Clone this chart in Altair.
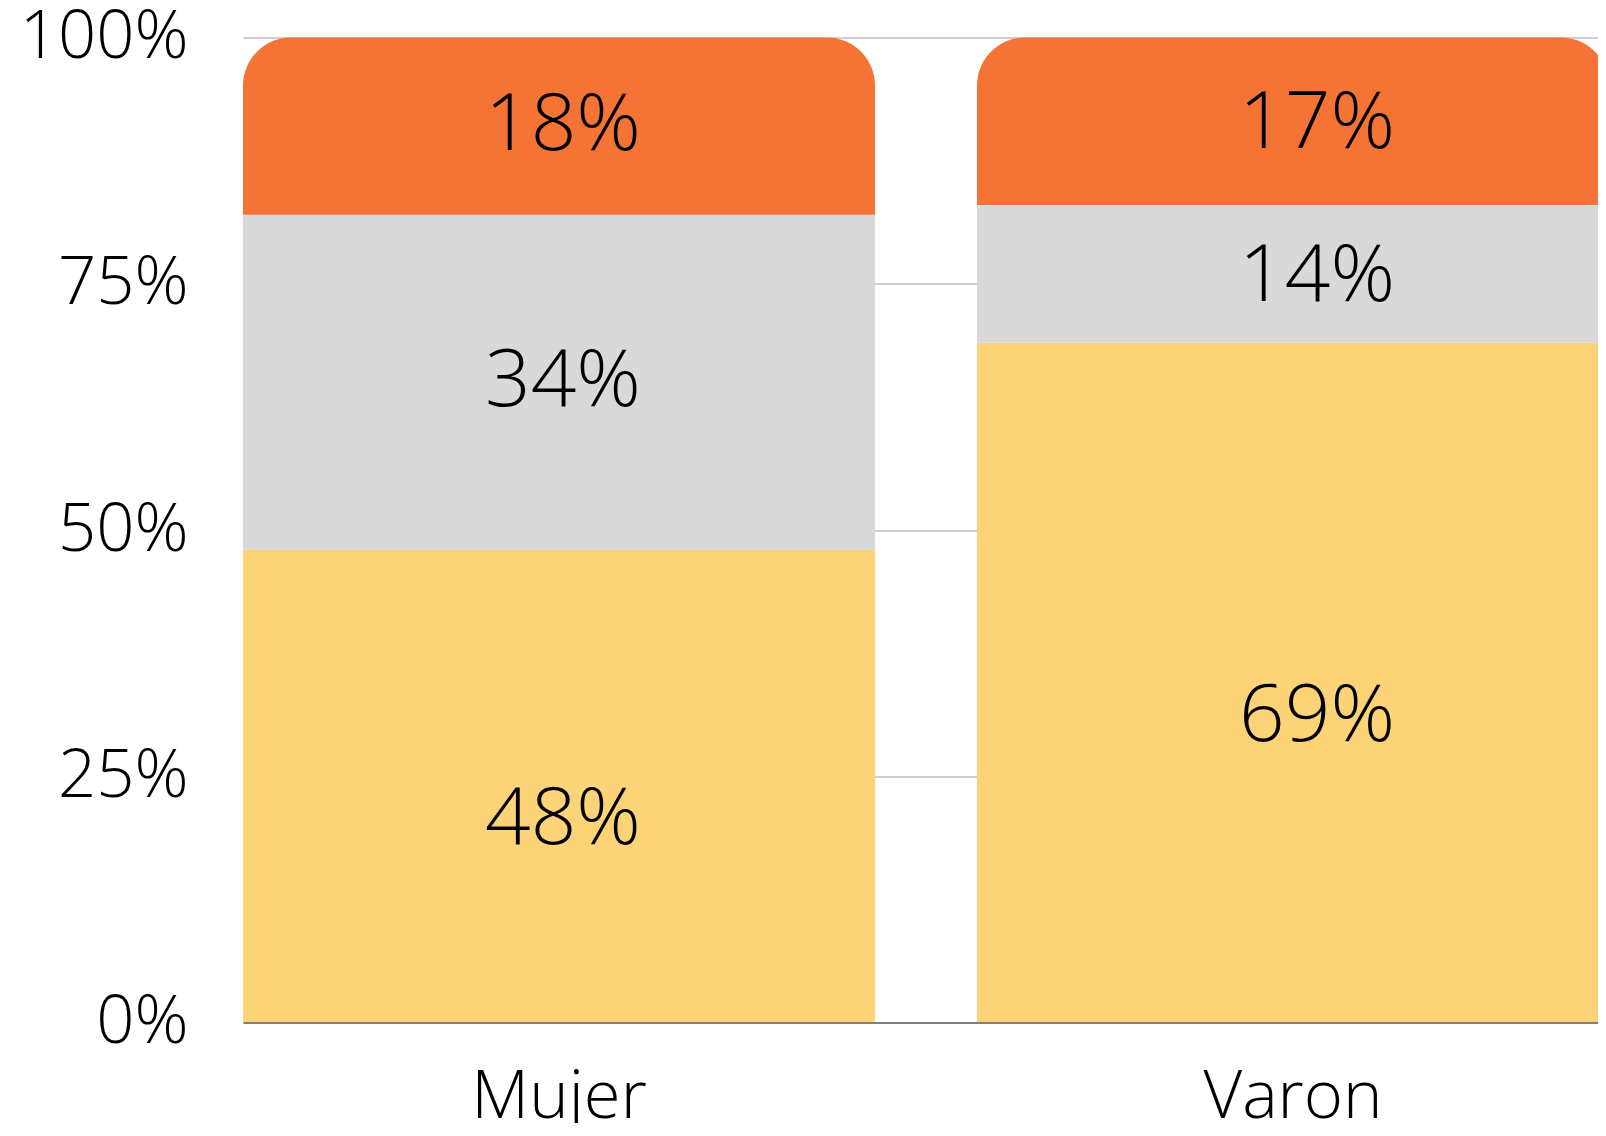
import altair as alt
import pandas as pd

categories = ["Mujer", "Varon"]
series = ["Serie 1", "Serie 2", "Serie 3"]
colors = ["#FDD378", "#D9D9D9", "#F47335"]
mujer_values = [48, 34, 18]
varon_values = [69, 14, 17]
y_ticks = [0, 25, 50, 75, 100]

rows = []
for cat, vals in zip(categories, [mujer_values, varon_values]):
    for i, (s, v) in enumerate(zip(series, vals)):
        rows.append({"category": cat, "series": s, "order": i + 1, "value": v,
                     "label": f"{v}%"})
df = pd.DataFrame(rows)

FONT = "Open Sans"

base = alt.Chart(df).transform_stack(
    stack="value", groupby=["category"], sort=[alt.SortField("order")], as_=["y0", "y1"]
).transform_calculate(mid="(datum.y0 + datum.y1) / 2")

x_scale = alt.Scale(paddingInner=0.139, paddingOuter=0, range=[0, 1366])
x_enc = alt.X(
    "category:N",
    sort=categories,
    scale=x_scale,
    axis=alt.Axis(title=None, labelAngle=0, ticks=False, grid=False,
                  domainColor="#666666", domainWidth=1.5, labelPadding=42,
                  labelFont=FONT, labelFontWeight=300, labelFontSize=67,
                  labelColor="#000000", labelLimit=0, zindex=1),
)
y_scale = alt.Scale(domain=[0, 100], nice=False)
y_enc = alt.Y(
    "y0:Q", scale=y_scale,
    axis=alt.Axis(title=None, values=y_ticks, labelExpr="datum.value + '%'",
                  ticks=False, domain=False, gridColor="#BFBFBF", gridWidth=1.3,
                  labelPadding=55, labelFont=FONT, labelFontWeight=300,
                  labelFontSize=67, labelColor="#000000", labelLimit=0),
)
color_enc = alt.Color("series:N", scale=alt.Scale(domain=series, range=colors), legend=None)

bars_rest = base.transform_filter("datum.order < 3").mark_bar().encode(
    x=x_enc, y=y_enc, y2="y1:Q", color=color_enc
)
bars_top = base.transform_filter("datum.order == 3").mark_bar(
    cornerRadiusTopLeft=48, cornerRadiusTopRight=48
).encode(x=x_enc, y=y_enc, y2="y1:Q", color=color_enc)


def labels(filter_expr, dx, dy):
    return base.transform_filter(filter_expr).mark_text(
        font=FONT, fontWeight=300, fontSize=80, color="#000000",
        baseline="middle", align="center", dx=dx, dy=dy,
    ).encode(
        x=alt.X("category:N", sort=categories, scale=x_scale),
        y=alt.Y("mid:Q", scale=y_scale),
        text="label:N",
    )


text_layers = [
    labels("datum.category == 'Mujer' && datum.order == 1", 4, 34),
    labels("datum.category == 'Mujer' && datum.order > 1", 4, 0),
    labels("datum.category == 'Varon' && datum.order == 1", 24, 34),
    labels("datum.category == 'Varon' && datum.order > 1", 24, 3),
]

chart = alt.layer(bars_rest, bars_top, *text_layers).properties(
    width=1355, height=985,
    autosize=alt.AutoSizeParams(type="none"),
    padding={"left": 235, "top": 29.5, "right": 0, "bottom": 100},
).configure_view(stroke=None)

chart.save("out.html", embed_options={"renderer": "svg", "actions": False})
